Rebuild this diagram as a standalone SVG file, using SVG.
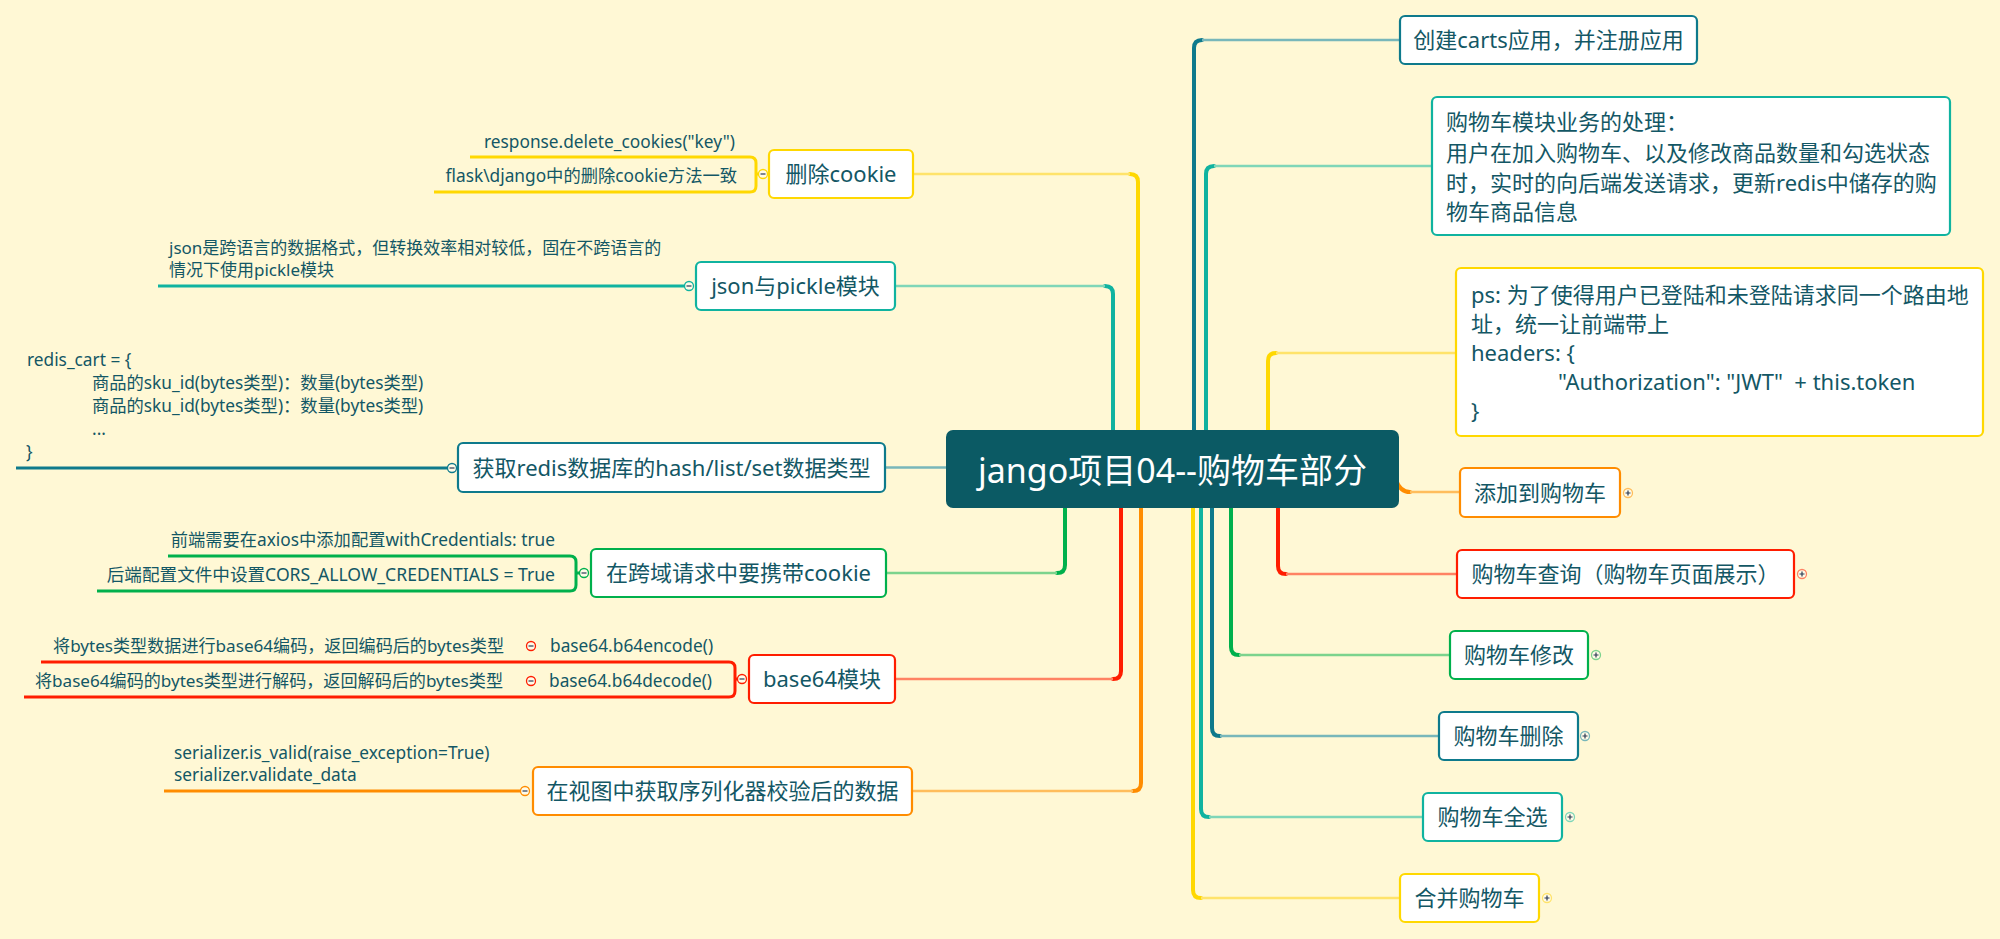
<svg xmlns="http://www.w3.org/2000/svg" width="2000" height="939" viewBox="0 0 2000 939">
<style>
text{font-family:"Noto Sans","Noto Sans CJK SC",sans-serif;fill:#135765}
.n{font-size:22px}
.c{text-anchor:middle}
.e{text-anchor:end}
.d{font-size:17.3px}
.d2{font-size:17px}
.box{fill:#fff;stroke-width:2.2}
.v{fill:none;stroke-width:4;stroke-linecap:round}
.h{fill:none;stroke-width:2.5}
.u{fill:none;stroke-width:3}
.btn{fill:#fffbe8;stroke-width:1.3}
.pm{stroke:#2b3a55;stroke-width:1.2}
</style>
<rect width="2000" height="939" fill="#fff8d5"/>
<g id="connectors">
<path class="v" stroke="#ffd800" d="M1138,440 V182 Q1138,174 1130,174"/>
<path class="h" stroke="#ffe36a" d="M1130,174 H913"/>
<path class="v" stroke="#10b3a0" d="M1113,440 V294 Q1113,286 1105,286"/>
<path class="h" stroke="#7fd6b8" d="M1105,286 H895"/>
<path class="h" stroke="#78b7ba" d="M950,467.5 H885"/>
<path class="v" stroke="#00b04c" d="M1065,500 V565 Q1065,573 1057,573"/>
<path class="h" stroke="#7cd38d" d="M1057,573 H886"/>
<path class="v" stroke="#ff1d00" d="M1121,500 V671 Q1121,679 1113,679"/>
<path class="h" stroke="#ff8263" d="M1113,679 H895"/>
<path class="v" stroke="#ff8c00" d="M1141,500 V783 Q1141,791 1133,791"/>
<path class="h" stroke="#ffbd5c" d="M1133,791 H912"/>
<path class="v" stroke="#0e7a8c" d="M1194,440 V48 Q1194,40 1202,40"/>
<path class="h" stroke="#78b7ba" d="M1202,40 H1400"/>
<path class="v" stroke="#10b3a0" d="M1206,440 V174 Q1206,166 1214,166"/>
<path class="h" stroke="#7fd6b8" d="M1214,166 H1432"/>
<path class="v" stroke="#ffd800" d="M1268,440 V361 Q1268,353 1276,353"/>
<path class="h" stroke="#ffe36a" d="M1276,353 H1456"/>
<path class="v" stroke="#ff8c00" d="M1396,480 Q1400,492 1410,492"/>
<path class="h" stroke="#ffbd5c" d="M1410,492 H1460"/>
<path class="v" stroke="#ff1d00" d="M1278,500 V566 Q1278,574 1286,574"/>
<path class="h" stroke="#ff8263" d="M1286,574 H1457"/>
<path class="v" stroke="#00b04c" d="M1231,500 V647 Q1231,655 1239,655"/>
<path class="h" stroke="#7cd38d" d="M1239,655 H1450"/>
<path class="v" stroke="#0e7a8c" d="M1212,500 V728 Q1212,736 1220,736"/>
<path class="h" stroke="#78b7ba" d="M1220,736 H1439"/>
<path class="v" stroke="#10b3a0" d="M1201,500 V809 Q1201,817 1209,817"/>
<path class="h" stroke="#7fd6b8" d="M1209,817 H1423"/>
<path class="v" stroke="#ffd800" d="M1193,500 V890 Q1193,898 1201,898"/>
<path class="h" stroke="#ffe36a" d="M1201,898 H1400"/>
<path class="u" stroke="#ffd800" d="M470,157 H750 Q756,157 756,163 V186 Q756,192 750,192 H434 M756,174 H760"/>
<path class="u" stroke="#10b3a0" d="M158,286 H686"/>
<path class="u" stroke="#0e7a8c" d="M16,468 H448"/>
<path class="u" stroke="#00b04c" d="M168,556 H570 Q576,556 576,562 V585 Q576,591 570,591 H97 M576,573 H580"/>
<path class="u" stroke="#ff1d00" d="M41,662 H729 Q735,662 735,668 V691 Q735,697 729,697 H24 M735,679 H738"/>
<path class="u" stroke="#ff8c00" d="M164,791 H521"/>
</g>
<g id="center">
<rect x="946" y="430" width="453" height="78" rx="7" fill="#0b5a64"/>
<text x="1172.5" y="483" class="c" style="font-size:34px;fill:#fff">jango项目04--购物车部分</text>
</g>
<g id="n-del-cookie">
<rect class="box" x="769" y="150" width="144" height="48" rx="5" stroke="#ffd800"/>
<text class="n c" x="841" y="182">删除cookie</text>
<circle class="btn" cx="763" cy="174" r="4.5" stroke="#ffd800"/><path class="pm" d="M760.5,174 H765.5"/>
<text class="d e" x="735" y="148">response.delete_cookies("key")</text>
<text class="d e" x="737" y="182">flask\django中的删除cookie方法一致</text>
</g>
<g id="n-json">
<rect class="box" x="696" y="262" width="199" height="48" rx="5" stroke="#10b3a0"/>
<text class="n c" x="795.5" y="294">json与pickle模块</text>
<circle class="btn" cx="689" cy="286" r="4.5" stroke="#10b3a0"/><path class="pm" d="M686.5,286 H691.5"/>
<text class="d2" x="169" y="254">json是跨语言的数据格式，但转换效率相对较低，固在不跨语言的</text>
<text class="d2" x="169" y="276">情况下使用pickle模块</text>
</g>
<g id="n-redis">
<rect class="box" x="458" y="443" width="427" height="49" rx="5" stroke="#0e7a8c"/>
<text class="n c" x="671.5" y="475.5">获取redis数据库的hash/list/set数据类型</text>
<circle class="btn" cx="452" cy="468" r="4.5" stroke="#0e7a8c"/><path class="pm" d="M449.5,468 H454.5"/>
<text class="d" x="27" y="366">redis_cart = {</text>
<text class="d" x="92" y="389">商品的sku_id(bytes类型)：数量(bytes类型)</text>
<text class="d" x="92" y="412">商品的sku_id(bytes类型)：数量(bytes类型)</text>
<text class="d" x="92" y="435">...</text>
<text class="d" x="26" y="458">}</text>
</g>
<g id="n-cors">
<rect class="box" x="591" y="549" width="295" height="48" rx="5" stroke="#00b04c"/>
<text class="n c" x="738.5" y="581">在跨域请求中要携带cookie</text>
<circle class="btn" cx="584" cy="573" r="4.5" stroke="#00b04c"/><path class="pm" d="M581.5,573 H586.5"/>
<text class="d e" x="555" y="546">前端需要在axios中添加配置withCredentials: true</text>
<text class="d e" x="555" y="581" style="font-size:17.6px">后端配置文件中设置CORS_ALLOW_CREDENTIALS = True</text>
</g>
<g id="n-base64">
<rect class="box" x="749" y="655" width="146" height="48" rx="5" stroke="#ff1d00"/>
<text class="n c" x="822" y="687">base64模块</text>
<circle class="btn" cx="742" cy="679" r="4.5" stroke="#ff1d00"/><path class="pm" d="M739.5,679 H744.5"/>
<text class="d" x="550" y="652">base64.b64encode()</text>
<circle class="btn" cx="531" cy="646" r="4.5" stroke="#ff1d00"/><path class="pm" d="M528.5,646 H533.5"/>
<text class="e" style="font-size:17.1px" x="504" y="652">将bytes类型数据进行base64编码，返回编码后的bytes类型</text>
<text class="d" x="549" y="687">base64.b64decode()</text>
<circle class="btn" cx="531" cy="681" r="4.5" stroke="#ff1d00"/><path class="pm" d="M528.5,681 H533.5"/>
<text class="e" style="font-size:17.1px" x="503" y="687">将base64编码的bytes类型进行解码，返回解码后的bytes类型</text>
</g>
<g id="n-serializer">
<rect class="box" x="533" y="767" width="379" height="48" rx="5" stroke="#ff8c00"/>
<text class="n c" x="722.5" y="799">在视图中获取序列化器校验后的数据</text>
<circle class="btn" cx="525" cy="791" r="4.5" stroke="#ff8c00"/><path class="pm" d="M522.5,791 H527.5"/>
<text class="d" x="174" y="759">serializer.is_valid(raise_exception=True)</text>
<text class="d" x="174" y="781">serializer.validate_data</text>
</g>
<g id="n-create">
<rect class="box" x="1400" y="16" width="297" height="48" rx="5" stroke="#0e7a8c"/>
<text class="n c" x="1548.5" y="48">创建carts应用，并注册应用</text>
</g>
<g id="n-business">
<rect class="box" x="1432" y="97" width="518" height="138" rx="5" stroke="#10b3a0"/>
<text class="n" x="1446" y="130">购物车模块业务的处理：</text>
<text class="n" x="1446" y="161">用户在加入购物车、以及修改商品数量和勾选状态</text>
<text class="n" x="1446" y="191">时，实时的向后端发送请求，更新redis中储存的购</text>
<text class="n" x="1446" y="220">物车商品信息</text>
</g>
<g id="n-ps">
<rect class="box" x="1456" y="268" width="527" height="168" rx="5" stroke="#ffd800"/>
<text class="n" x="1471" y="303">ps: 为了使得用户已登陆和未登陆请求同一个路由地</text>
<text class="n" x="1471" y="332">址，统一让前端带上</text>
<text class="n" x="1471" y="361">headers: {</text>
<text class="n" x="1558" y="390" xml:space="preserve">"Authorization": "JWT"  + this.token</text>
<text class="n" x="1471" y="419">}</text>
</g>
<g id="n-add">
<rect class="box" x="1460" y="468" width="160" height="49" rx="5" stroke="#ff8c00"/>
<text class="n c" x="1540" y="500.5">添加到购物车</text>
<circle class="btn" cx="1628" cy="493" r="4.5" stroke="#ffbd5c"/><path class="pm" d="M1625.5,493 H1630.5 M1628,490.5 V495.5"/>
</g>
<g id="n-query">
<rect class="box" x="1457" y="550" width="337" height="48" rx="5" stroke="#ff1d00"/>
<text class="n c" x="1625.5" y="582">购物车查询（购物车页面展示）</text>
<circle class="btn" cx="1802" cy="574" r="4.5" stroke="#ff8263"/><path class="pm" d="M1799.5,574 H1804.5 M1802,571.5 V576.5"/>
</g>
<g id="n-modify">
<rect class="box" x="1450" y="631" width="138" height="48" rx="5" stroke="#00b04c"/>
<text class="n c" x="1519" y="663">购物车修改</text>
<circle class="btn" cx="1596" cy="655" r="4.5" stroke="#7cd38d"/><path class="pm" d="M1593.5,655 H1598.5 M1596,652.5 V657.5"/>
</g>
<g id="n-delete">
<rect class="box" x="1439" y="712" width="139" height="48" rx="5" stroke="#0e7a8c"/>
<text class="n c" x="1508.5" y="744">购物车删除</text>
<circle class="btn" cx="1585" cy="736" r="4.5" stroke="#78b7ba"/><path class="pm" d="M1582.5,736 H1587.5 M1585,733.5 V738.5"/>
</g>
<g id="n-selectall">
<rect class="box" x="1423" y="793" width="139" height="48" rx="5" stroke="#10b3a0"/>
<text class="n c" x="1492.5" y="825">购物车全选</text>
<circle class="btn" cx="1570" cy="817" r="4.5" stroke="#7fd6b8"/><path class="pm" d="M1567.5,817 H1572.5 M1570,814.5 V819.5"/>
</g>
<g id="n-merge">
<rect class="box" x="1400" y="874" width="139" height="48" rx="5" stroke="#ffd800"/>
<text class="n c" x="1469.5" y="906">合并购物车</text>
<circle class="btn" cx="1547" cy="898" r="4.5" stroke="#ffe36a"/><path class="pm" d="M1544.5,898 H1549.5 M1547,895.5 V900.5"/>
</g>
</svg>
